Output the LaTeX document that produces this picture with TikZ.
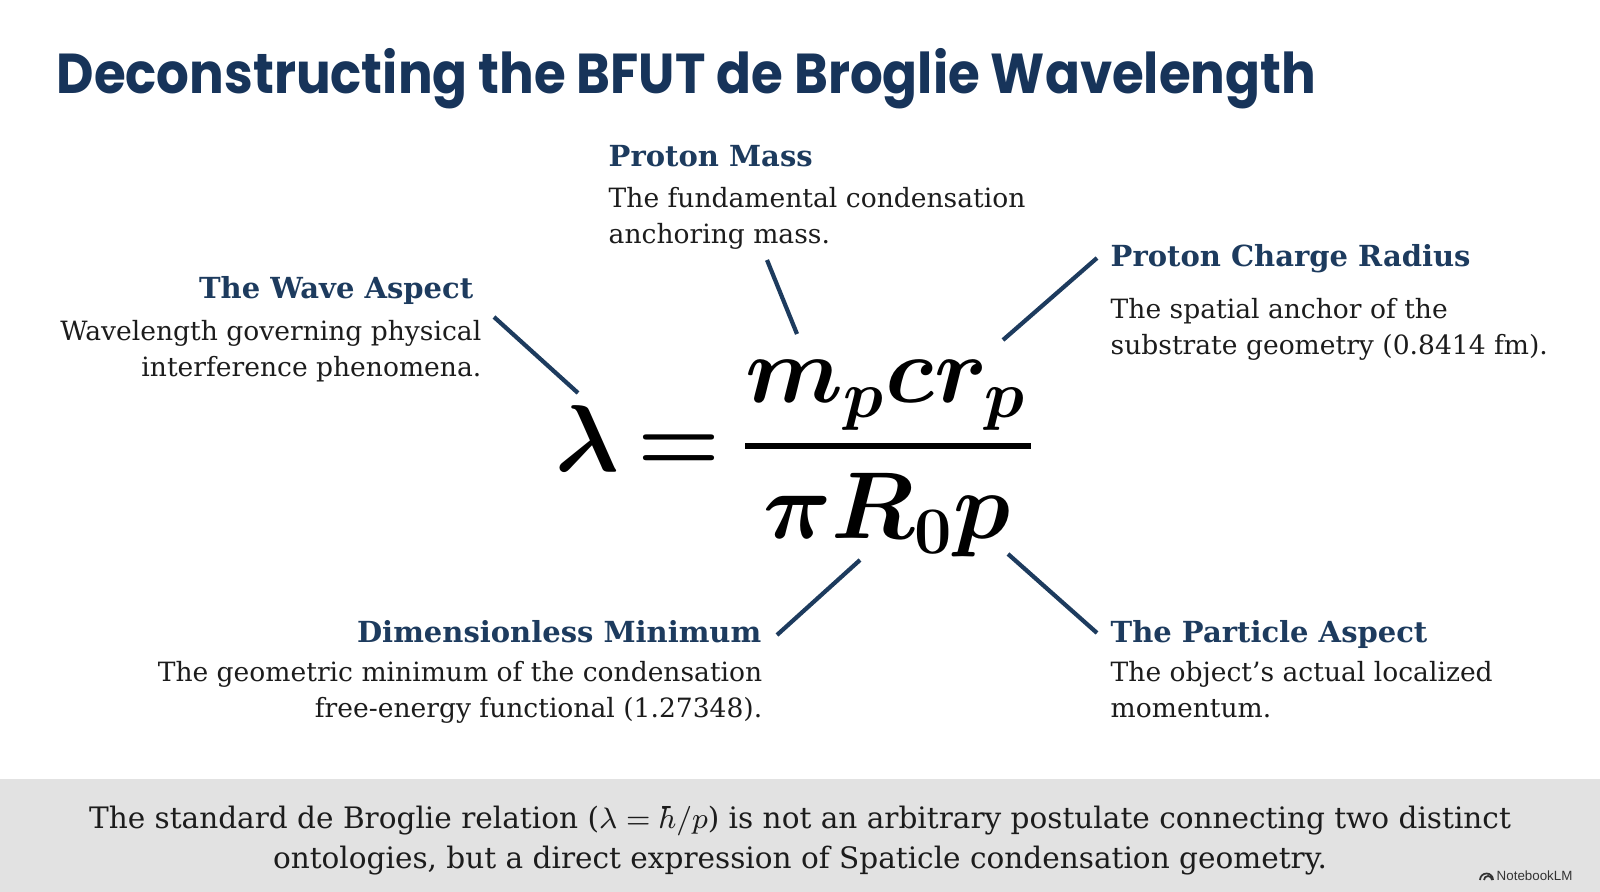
\RequirePackage{fix-cm}
\documentclass[tikz,border=0pt]{standalone}
\usepackage{amsmath}
\usepackage{fontspec}
\setmainfont{DejaVu Serif}
\newfontfamily\titlefont{Poppins}[FakeStretch=0.915]
\newfontfamily\logofont{Liberation Sans}
\usetikzlibrary{positioning}
\definecolor{navy}{HTML}{1D3B5E}
\definecolor{titleblue}{HTML}{17345A}
\definecolor{ink}{HTML}{1C1C1C}
\definecolor{bargray}{HTML}{E2E2E2}

\begin{document}
\begin{tikzpicture}[x=0.01cm, y=-0.01cm,
    head/.style={font=\bfseries\fontsize{8.25}{9.5}\selectfont, text=navy, inner sep=0pt},
    body/.style={font=\fontsize{7.55}{10.44}\selectfont, text=ink, inner sep=0pt},
    bigmath/.style={font=\fontsize{27}{32}\selectfont\mathversion{bold}, inner sep=0pt, anchor=base},
    leader/.style={navy, line width=1.2pt}]
    \useasboundingbox (0,0) rectangle (1600,892);

    % Title
    \node[anchor=base west, inner sep=0pt, text=titleblue,
          font=\titlefont\bfseries\fontsize{16}{18}\selectfont] (title) at (56,94)
        {Deconstructing the BFUT de Broglie Wavelength};

    % Main formula
    \node[bigmath] (lam) at (587,472) {$\lambda$};
    \node[bigmath] (eq) at (679,472) {$=$};
    \node[bigmath] (num) at (886,403) {$m_p c r_p$};
    \node[bigmath] (den) at (887,539) {$\pi R_0 p$};
    \coordinate (bar-l) at (745,446);
    \coordinate (bar-r) at (1031,446);
    \draw[line width=1.7pt] (bar-l) -- (bar-r);

    % Wave aspect (left)
    \node[head, anchor=base east] (wave-head) at (474,299) {The Wave Aspect};
    \node[body, anchor=base east, align=right] (wave-text) at (482,377)
        {Wavelength governing physical\\interference phenomena.};

    % Proton mass (top)
    \node[head, anchor=base west] (mass-head) at (608,167) {Proton Mass};
    \node[body, anchor=base west, align=left] (mass-text) at (608,244)
        {The fundamental condensation\\anchoring mass.};

    % Proton charge radius (top right)
    \node[head, anchor=base west] (radius-head) at (1110,267) {Proton Charge Radius};
    \node[body, anchor=base west, align=left] (radius-text) at (1110,355)
        {The spatial anchor of the\\substrate geometry (0.8414 fm).};

    % Dimensionless minimum (bottom left)
    \node[head, anchor=base east] (min-head) at (762,643) {Dimensionless Minimum};
    \node[body, anchor=base east, align=right] (min-text) at (763,718)
        {The geometric minimum of the condensation\\free-energy functional (1.27348).};

    % Particle aspect (bottom right)
    \node[head, anchor=base west] (particle-head) at (1110,643) {The Particle Aspect};
    \node[body, anchor=base west, align=left] (particle-text) at (1110,718)
        {The object's actual localized\\momentum.};

    % Leader lines
    \coordinate (wave-a) at (494,317);      \coordinate (wave-b) at (578,393);
    \coordinate (mass-a) at (767,260);      \coordinate (mass-b) at (797,334);
    \coordinate (radius-a) at (1097,258);   \coordinate (radius-b) at (1003,340);
    \coordinate (min-a) at (860,560);       \coordinate (min-b) at (777,635);
    \coordinate (particle-a) at (1008,554); \coordinate (particle-b) at (1097,633);
    \draw[leader] (wave-a) -- (wave-b);
    \draw[leader] (mass-a) -- (mass-b);
    \draw[leader] (radius-a) -- (radius-b);
    \draw[leader] (min-a) -- (min-b);
    \draw[leader] (particle-a) -- (particle-b);

    % Bottom bar with remark
    \fill[bargray] (0,779) rectangle (1600,892);
    \node[anchor=base, inner sep=0pt, align=center, text=ink,
          font=\fontsize{8.4}{11.6}\selectfont] (remark) at (800,869)
        {The standard de Broglie relation ($\lambda=\hbar/p$) is not an arbitrary postulate connecting two distinct\\
         ontologies, but a direct expression of Spaticle condensation geometry.};

    % Logo
    \node[anchor=base west, inner sep=0pt, text=black!80,
          font=\logofont\fontsize{3.8}{4}\selectfont] (logo) at (1496,880) {NotebookLM};
    \draw[black!80, line width=0.5pt] (1480,880) arc[start angle=180, end angle=0, radius=0.065cm];
    \draw[black!80, line width=0.5pt] (1484,880) arc[start angle=180, end angle=0, radius=0.04cm];
\end{tikzpicture}
\end{document}
